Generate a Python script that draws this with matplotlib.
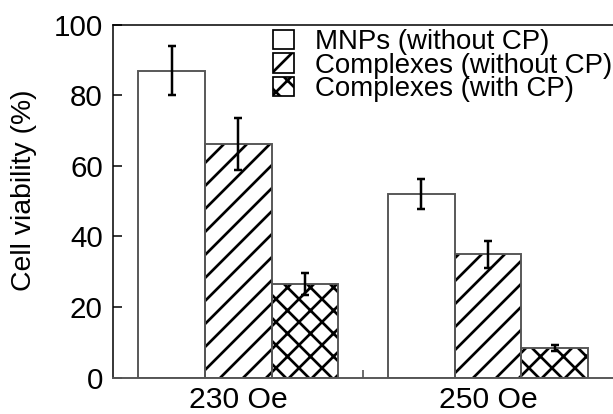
import matplotlib
matplotlib.use("Agg")
import matplotlib.pyplot as plt
from matplotlib.patches import Patch
import numpy as np

groups = ["230 Oe", "250 Oe"]
series = ["MNPs (without CP)", "Complexes (without CP)", "Complexes (with CP)"]
values = [[87.0, 52.0], [66.3, 35.0], [26.5, 8.4]]
errors = [[7.0, 4.2], [7.4, 3.8], [3.1, 0.8]]
hatches = ["", "//", "xx"]

plt.rcParams["font.family"] = ["Liberation Sans", "DejaVu Sans"]
plt.rcParams["hatch.linewidth"] = 1.4

DPI = 138
fig = plt.figure(figsize=(613 / DPI, 414 / DPI), dpi=DPI)
ax = fig.add_axes([113.3 / 613, (414 - 377.7) / 414, (613 - 113.3) / 613, (377.7 - 24.7) / 414])

x = np.arange(1, len(groups) + 1)
w = 0.2667
for i, (vals, errs, h) in enumerate(zip(values, errors, hatches)):
    pos = x + (i - 1) * w
    ax.bar(pos, vals, w, color="white", edgecolor="black", hatch=h, linewidth=0, zorder=2)
    ax.bar(pos, vals, w, color="none", edgecolor="#555555", linewidth=1.0, zorder=3)
    ax.errorbar(pos, vals, yerr=errs, fmt="none", ecolor="black", elinewidth=1.3,
                capsize=2.0, capthick=1.3, zorder=4)

ax.set_xlim(0.5, 2.5)
ax.set_ylim(0, 100)
ax.set_xticks(x)
ax.set_xticklabels(groups)
ax.set_xticks([1.5], minor=True)
ax.tick_params(axis="x", which="major", length=0, pad=4.5, labelsize=15.7)
ax.tick_params(axis="x", which="minor", direction="in", length=4.3, width=0.8, color="#444444")
ax.set_yticks([0, 20, 40, 60, 80, 100])
ax.tick_params(axis="y", direction="in", length=4.9, width=0.8, pad=5.5, labelsize=15.4)
ax.spines["right"].set_visible(False)
ax.spines["left"].set_linewidth(0.8)
ax.spines["top"].set_linewidth(0.8)
ax.spines["bottom"].set_linewidth(1.0)
ax.spines["bottom"].set_color("#555555")
ax.set_ylabel("Cell viability (%)", fontsize=14.8)
ax.yaxis.set_label_coords((37 - 113.3) / 499.7, (377.7 - 190) / 353)

handles = [Patch(facecolor="white", edgecolor="black", hatch=h, linewidth=0.9) for h in hatches]
leg = ax.legend(handles, series, loc="upper left", bbox_to_anchor=(273.3 / 613, 1 - 29 / 414),
                bbox_transform=fig.transFigure, frameon=False, fontsize=14.4,
                handlelength=0.76, handleheight=0.72, handletextpad=0.75,
                labelspacing=-0.09, borderpad=0, borderaxespad=0)

fig.savefig("out.png", dpi=DPI)
